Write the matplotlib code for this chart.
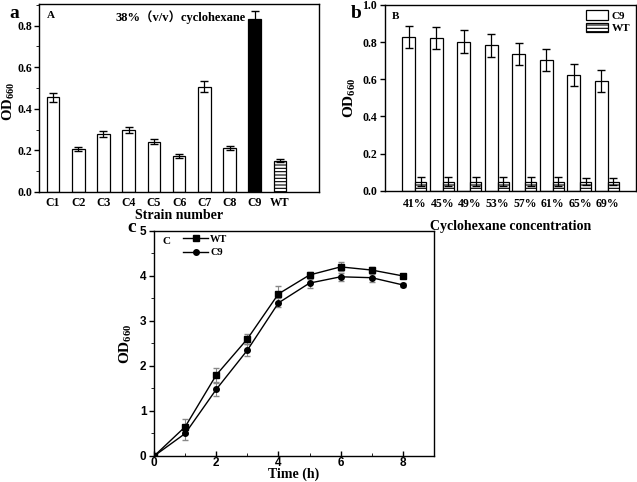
import numpy as np
import matplotlib.pyplot as plt
from matplotlib.ticker import MultipleLocator

plt.rcParams['font.family'] = ['Liberation Serif', 'Noto Sans CJK SC']
plt.rcParams['font.weight'] = 'bold'
plt.rcParams['mathtext.fontset'] = 'custom'
plt.rcParams['mathtext.rm'] = 'Liberation Serif:bold'
plt.rcParams['mathtext.bf'] = 'Liberation Serif:bold'
plt.rcParams['hatch.color'] = '#999999'
plt.rcParams['hatch.linewidth'] = 0.8

# panel a
strains = ['C1', 'C2', 'C3', 'C4', 'C5', 'C6', 'C7', 'C8', 'C9', 'WT']
od_a = [0.455, 0.205, 0.278, 0.297, 0.242, 0.172, 0.507, 0.211, 0.832, 0.150]
err_a = [0.022, 0.010, 0.015, 0.015, 0.013, 0.008, 0.026, 0.011, 0.040, 0.006]

# panel b
conc = ['41%', '45%', '49%', '53%', '57%', '61%', '65%', '69%']
od_c9 = [0.828, 0.820, 0.802, 0.782, 0.737, 0.703, 0.622, 0.590]
err_c9 = [0.060, 0.060, 0.060, 0.060, 0.060, 0.060, 0.060, 0.060]
od_wt = [0.05, 0.05, 0.05, 0.05, 0.05, 0.05, 0.05, 0.05]
err_wt = [0.022, 0.022, 0.022, 0.022, 0.022, 0.022, 0.020, 0.018]

# panel c
time = [0, 1, 2, 3, 4, 5, 6, 7, 8]
wt_c = [0, 0.65, 1.80, 2.60, 3.60, 4.02, 4.20, 4.13, 4.00]
wt_err = [0, 0.17, 0.15, 0.12, 0.18, 0.06, 0.10, 0.06, 0.05]
c9_c = [0, 0.50, 1.48, 2.35, 3.40, 3.84, 3.98, 3.96, 3.80]
c9_err = [0, 0.15, 0.14, 0.14, 0.10, 0.10, 0.09, 0.09, 0.05]

fig = plt.figure(figsize=(6.37, 4.82), dpi=100)
ylab = r'$\mathrm{OD_{660}}$'

def style(ax):
    for s in ax.spines.values():
        s.set_linewidth(1.0)
    ax.tick_params(labelsize=8.5, width=1.0, pad=2)
    for lab in ax.get_xticklabels() + ax.get_yticklabels():
        lab.set_fontweight('bold')

# ---- a
axa = fig.add_axes([0.061, 0.602, 0.44, 0.390])
xa = np.arange(1, 11)
cols = ['white'] * 8 + ['black', 'white']
hatches = [None] * 9 + ['-----']
for i in range(10):
    axa.bar(xa[i], od_a[i], width=0.5, color=cols[i], edgecolor='black',
            linewidth=0.9, hatch=hatches[i])
axa.errorbar(xa, od_a, yerr=err_a, fmt='none', ecolor='black', elinewidth=0.9, capsize=3)
axa.set_xlim(0.44, 11.55)
axa.set_ylim(0, 0.905)
axa.set_xticks(xa)
axa.set_xticklabels(strains)
axa.yaxis.set_major_locator(MultipleLocator(0.2))
axa.yaxis.set_minor_locator(MultipleLocator(0.1))
axa.yaxis.set_major_formatter(plt.FormatStrFormatter('%.1f'))
axa.set_xlabel('Strain number', fontsize=10, fontweight='bold', labelpad=0)
axa.text(0.03, 0.96, 'A', transform=axa.transAxes, fontsize=8, fontweight='bold', va='top')
axa.text(0.275, 0.965, '38%（v/v）cyclohexane', transform=axa.transAxes, fontsize=9,
         fontweight='bold', va='top')
style(axa)
axa.tick_params(axis='y', pad=1.5)
axa.tick_params(axis='x', length=0, pad=4)
fig.text(0.0135, 0.79, ylab, fontsize=10.5, rotation=90, ha='center', va='center')
fig.text(0.014, 0.972, 'a', fontsize=14, fontweight='bold', va='center')

# ---- b
axb = fig.add_axes([0.604, 0.604, 0.394, 0.386])
xb = np.arange(1, 9)
axb.bar(xb - 0.23, od_c9, width=0.46, color='white', edgecolor='black', linewidth=0.9, label='C9')
axb.bar(xb + 0.2, od_wt, width=0.4, color='white', edgecolor='black', linewidth=0.9,
        hatch='-----', label='WT')
axb.errorbar(xb - 0.23, od_c9, yerr=err_c9, fmt='none', ecolor='black', elinewidth=0.9, capsize=3)
axb.errorbar(xb + 0.2, od_wt, yerr=err_wt, fmt='none', ecolor='black', elinewidth=0.9, capsize=3)
axb.set_xlim(-0.1, 9.02)
axb.set_ylim(0, 1.0)
axb.set_xticks(xb)
axb.set_xticklabels(conc)
axb.yaxis.set_major_locator(MultipleLocator(0.2))
axb.yaxis.set_major_formatter(plt.FormatStrFormatter('%.1f'))
axb.set_xlabel('Cyclohexane concentration', fontsize=10, fontweight='bold', labelpad=7)
axb.set_ylabel(ylab, fontsize=11, labelpad=3)
axb.text(0.03, 0.96, 'B', transform=axb.transAxes, fontsize=8, fontweight='bold', va='top')
axb.legend(loc='upper right', fontsize=8, frameon=False, handlelength=2.0,
           handleheight=0.9, borderaxespad=0.1, labelspacing=0.2, handletextpad=0.3)
style(axb)
axb.tick_params(axis='x', length=0, pad=5)
fig.text(0.55, 0.972, 'b', fontsize=14, fontweight='bold', va='center')

# ---- c
axc = fig.add_axes([0.242, 0.054, 0.439, 0.467])
axc.errorbar(time, wt_c, yerr=wt_err, fmt='none', ecolor='#888888', elinewidth=0.8, capsize=2)
axc.errorbar(time, c9_c, yerr=c9_err, fmt='none', ecolor='#888888', elinewidth=0.8, capsize=2)
axc.plot(time, wt_c, color='black', marker='s', markersize=4, linewidth=1.0, label='WT')
axc.plot(time, c9_c, color='black', marker='o', markersize=4, linewidth=1.0, label='C9')
axc.set_xlim(0, 9)
axc.set_ylim(0, 5)
axc.xaxis.set_major_locator(MultipleLocator(2))
axc.xaxis.set_minor_locator(MultipleLocator(1))
axc.yaxis.set_major_locator(MultipleLocator(1))
axc.yaxis.set_minor_locator(MultipleLocator(0.5))
axc.set_xlabel('Time (h)', fontsize=10, fontweight='bold', labelpad=-1)
axc.set_ylabel(ylab, fontsize=11, labelpad=4)
axc.text(0.03, 0.975, 'C', transform=axc.transAxes, fontsize=8, fontweight='bold', va='top')
axc.legend(loc='upper left', bbox_to_anchor=(0.07, 1.025), fontsize=7.5, frameon=False,
           handlelength=2.4, labelspacing=0.4, handletextpad=0.2)
style(axc)
axc.tick_params(axis='x', which='both', direction='in', pad=1)
axc.tick_params(axis='x', which='minor', length=2)
for lab in axc.get_xticklabels() + axc.get_yticklabels():
    lab.set_family('Liberation Sans')
fig.text(0.2, 0.527, 'c', fontsize=14, fontweight='bold', va='center')

fig.savefig('out.png', dpi=100)
